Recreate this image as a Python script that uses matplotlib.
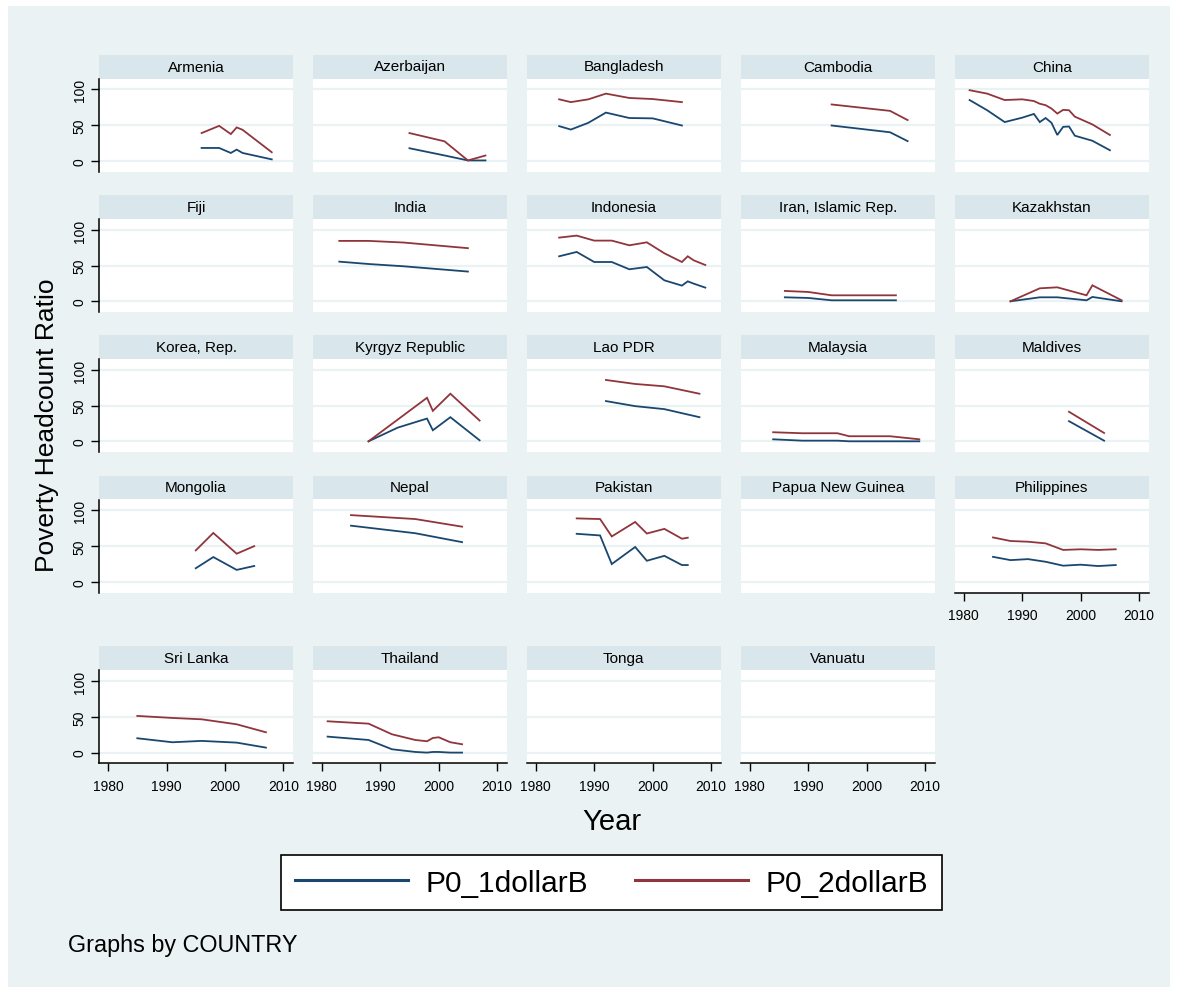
import matplotlib
matplotlib.use("Agg")
import matplotlib.pyplot as plt
from matplotlib.patches import Rectangle
from matplotlib.lines import Line2D

plt.rcParams['font.family'] = ['Liberation Sans', 'DejaVu Sans']

countries = ["Armenia", "Azerbaijan", "Bangladesh", "Cambodia", "China",
             "Fiji", "India", "Indonesia", "Iran, Islamic Rep.", "Kazakhstan",
             "Korea, Rep.", "Kyrgyz Republic", "Lao PDR", "Malaysia", "Maldives",
             "Mongolia", "Nepal", "Pakistan", "Papua New Guinea", "Philippines",
             "Sri Lanka", "Thailand", "Tonga", "Vanuatu"]

years = {
    "Armenia": [1996, 1999, 2001, 2002, 2003, 2008],
    "Azerbaijan": [1995, 2001, 2005, 2008],
    "Bangladesh": [1984, 1986, 1989, 1992, 1996, 2000, 2005],
    "Cambodia": [1994, 2004, 2007],
    "China": [1981, 1984, 1987, 1990, 1992, 1993, 1994, 1995, 1996, 1997, 1998, 1999, 2002, 2005],
    "Fiji": [],
    "India": [1983, 1988, 1994, 2005],
    "Indonesia": [1984, 1987, 1990, 1993, 1996, 1999, 2002, 2005, 2006, 2007, 2009],
    "Iran, Islamic Rep.": [1986, 1990, 1994, 1998, 2005],
    "Kazakhstan": [1988, 1993, 1996, 2001, 2002, 2007],
    "Korea, Rep.": [],
    "Kyrgyz Republic": [1988, 1993, 1998, 1999, 2002, 2007],
    "Lao PDR": [1992, 1997, 2002, 2008],
    "Malaysia": [1984, 1989, 1995, 1997, 2004, 2009],
    "Maldives": [1998, 2004],
    "Mongolia": [1995, 1998, 2002, 2005],
    "Nepal": [1985, 1996, 2004],
    "Pakistan": [1987, 1991, 1993, 1997, 1999, 2002, 2005, 2006],
    "Papua New Guinea": [],
    "Philippines": [1985, 1988, 1991, 1994, 1997, 2000, 2003, 2006],
    "Sri Lanka": [1985, 1991, 1996, 2002, 2007],
    "Thailand": [1981, 1988, 1992, 1996, 1998, 1999, 2000, 2002, 2004],
    "Tonga": [],
    "Vanuatu": [],
}

p0_1dollar = {
    "Armenia": [18.0, 18.0, 11.0, 15.7, 11.0, 2.0],
    "Azerbaijan": [17.6, 7.5, 0.5, 0.5],
    "Bangladesh": [48.6, 43.8, 53.3, 67.6, 60.0, 59.5, 49.5],
    "Cambodia": [49.5, 40.0, 27.6],
    "China": [85.2, 70.9, 54.3, 60.5, 65.7, 54.3, 60.0, 53.3, 36.2, 47.6, 48.1, 35.2, 28.1, 14.8],
    "Fiji": [],
    "India": [55.6, 52.3, 49.1, 41.7],
    "Indonesia": [63.1, 69.2, 55.1, 55.1, 44.9, 48.1, 29.4, 22.0, 28.0, 24.8, 19.2],
    "Iran, Islamic Rep.": [5.6, 4.7, 1.4, 1.4, 1.4],
    "Kazakhstan": [0.0, 5.6, 5.6, 1.4, 6.1, 0.0],
    "Korea, Rep.": [],
    "Kyrgyz Republic": [0.0, 19.2, 31.9, 15.5, 33.8, 1.4],
    "Lao PDR": [56.4, 49.3, 45.1, 33.8],
    "Malaysia": [2.8, 0.9, 0.9, 0.0, 0.0, 0.0],
    "Maldives": [28.2, 0.9],
    "Mongolia": [19.0, 34.7, 16.7, 22.2],
    "Nepal": [78.7, 68.1, 55.6],
    "Pakistan": [67.3, 65.0, 24.9, 48.8, 29.5, 36.4, 23.5, 23.5],
    "Papua New Guinea": [],
    "Philippines": [35.0, 30.4, 31.8, 28.1, 22.6, 24.0, 22.1, 23.5],
    "Sri Lanka": [20.1, 14.5, 16.4, 14.0, 7.0],
    "Thailand": [22.4, 17.7, 4.7, 0.9, 0.0, 0.9, 0.9, 0.0, 0.0],
    "Tonga": [],
    "Vanuatu": [],
}

p0_2dollar = {
    "Armenia": [38.9, 49.0, 37.5, 46.8, 43.5, 12.0],
    "Azerbaijan": [38.9, 27.3, 0.5, 7.4],
    "Bangladesh": [86.2, 82.3, 86.2, 94.2, 88.1, 86.6, 82.3],
    "Cambodia": [79.0, 70.0, 57.1],
    "China": [99.0, 94.2, 85.2, 86.2, 83.8, 80.0, 78.0, 73.3, 66.2, 71.4, 70.9, 61.9, 51.0, 36.2],
    "Fiji": [],
    "India": [84.7, 84.7, 82.4, 74.5],
    "Indonesia": [89.3, 92.1, 85.1, 85.1, 78.5, 82.7, 67.3, 55.1, 63.1, 57.5, 50.9],
    "Iran, Islamic Rep.": [14.5, 13.1, 8.4, 8.4, 8.4],
    "Kazakhstan": [0.0, 18.2, 19.6, 8.4, 22.4, 1.4],
    "Korea, Rep.": [],
    "Kyrgyz Republic": [0.0, 30.5, 61.0, 42.7, 66.7, 29.1],
    "Lao PDR": [86.0, 80.4, 77.1, 66.7],
    "Malaysia": [12.7, 11.3, 11.3, 7.1, 7.1, 2.8],
    "Maldives": [41.4, 11.7],
    "Mongolia": [44.0, 68.5, 39.4, 50.0],
    "Nepal": [93.5, 88.0, 77.3],
    "Pakistan": [88.9, 88.0, 63.6, 83.9, 67.7, 74.2, 60.4, 61.8],
    "Papua New Guinea": [],
    "Philippines": [62.2, 57.2, 56.2, 53.9, 44.7, 45.6, 44.7, 45.6],
    "Sri Lanka": [51.4, 48.6, 46.7, 39.7, 28.5],
    "Thailand": [43.9, 40.6, 25.7, 17.7, 15.9, 20.5, 21.5, 14.5, 11.7],
    "Tonga": [],
    "Vanuatu": [],
}

series_labels = ["P0_1dollarB", "P0_2dollarB"]
y_ticks = [0, 50, 100]
x_ticks = [1980, 1990, 2000, 2010]

BLUE = "#1A476F"
RED = "#90353B"
BG = "#EAF2F3"
STRIP = "#D9E6EB"

W, H = 1178, 995
fig = plt.figure(figsize=(W / 100, H / 100), dpi=100)
fig.patch.set_facecolor("white")
fig.patches.append(Rectangle((8 / W, 1 - 988 / H), (1170 - 8) / W, (988 - 7) / H,
                             transform=fig.transFigure, facecolor=BG,
                             edgecolor="none", zorder=-10))


def fr(x, y, w, h):
    return [x / W, 1 - (y + h) / H, w / W, h / H]


col_left = [99.3, 313.0, 527.0, 741.0, 955.0]
row_top = [55.5, 196.0, 336.0, 476.5, 647.3]
pw = 193.5
strip_h = 24.0
plot_h = 93.0

n = len(countries)
for i, c in enumerate(countries):
    r, k = divmod(i, 5)
    x0 = col_left[k]
    y0 = row_top[r]
    sax = fig.add_axes(fr(x0, y0, pw, strip_h))
    sax.set_facecolor(STRIP)
    sax.set_xticks([]); sax.set_yticks([])
    for s in sax.spines.values():
        s.set_visible(False)
    sax.text(0.5, 0.5, c, ha="center", va="center", fontsize=11,
             transform=sax.transAxes, color="black")

    ax = fig.add_axes(fr(x0, y0 + strip_h, pw, plot_h))
    ax.set_facecolor("white")
    ax.set_xlim(1978.5, 2011.6)
    ax.set_ylim(-15, 115.4)
    ax.set_yticks(y_ticks)
    ax.set_xticks(x_ticks)
    ax.yaxis.grid(True, color=BG, linewidth=1.6)
    ax.set_axisbelow(True)
    for s in ["top", "right"]:
        ax.spines[s].set_visible(False)
    left_axis = (k == 0)
    bottom_axis = (i + 5 >= n)
    ax.spines["left"].set_visible(left_axis)
    ax.spines["bottom"].set_visible(bottom_axis)
    ax.spines["left"].set_linewidth(1.1)
    ax.spines["bottom"].set_linewidth(1.1)
    ax.tick_params(axis="y", left=left_axis, labelleft=left_axis, direction="out",
                   length=6, width=1.0, labelsize=10, pad=3, labelrotation=90)
    ax.tick_params(axis="x", bottom=bottom_axis, labelbottom=bottom_axis,
                   direction="out", length=6, width=1.0, labelsize=10, pad=5)
    for lab in ax.get_yticklabels():
        lab.set_va("center")
    if years[c]:
        ax.plot(years[c], p0_1dollar[c], color=BLUE, linewidth=1.3, solid_joinstyle="miter")
        ax.plot(years[c], p0_2dollar[c], color=RED, linewidth=1.3, solid_joinstyle="miter")

fig.text(47 / W, 1 - 425 / H, "Poverty Headcount Ratio", rotation=90,
         ha="center", va="center", fontsize=19)
fig.text(612 / W, 1 - 822 / H, "Year", ha="center", va="center", fontsize=21)

handles = [Line2D([], [], color=BLUE, linewidth=2.2),
           Line2D([], [], color=RED, linewidth=2.2)]
leg = fig.legend(handles, series_labels, loc="center",
                 bbox_to_anchor=(611.5 / W, 1 - 883.7 / H), ncol=2,
                 frameon=True, fancybox=False, edgecolor="black", framealpha=1,
                 fontsize=21.5, handlelength=3.8, handletextpad=0.58,
                 columnspacing=1.57, borderpad=0.45)
leg.get_frame().set_linewidth(1.2)
leg.get_frame().set_facecolor("white")

fig.text(68 / W, 1 - 946 / H, "Graphs by COUNTRY", ha="left", va="center", fontsize=16.8)

fig.savefig("out.png", dpi=100, facecolor=fig.get_facecolor())
